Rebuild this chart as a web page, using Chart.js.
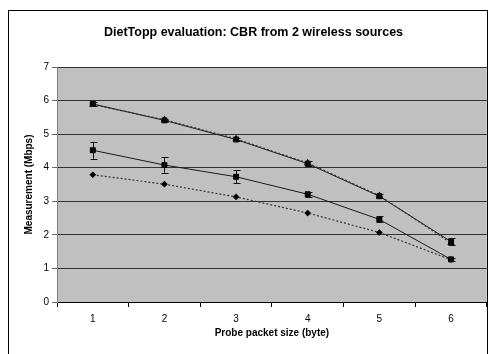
<!DOCTYPE html>
<html>
<head>
<meta charset="utf-8">
<script src="https://cdn.jsdelivr.net/npm/chart.js@4"></script>
<style>
  html, body { margin: 0; padding: 0; background: #fff; }
  #wrap { width: 492px; height: 354px; }
</style>
</head>
<body>
<div id="wrap"><canvas id="chart" width="492" height="354"></canvas></div>
<script>
const packetSizes = ['1', '2', '3', '4', '5', '6'];
const yTicks = [0, 7];

// solid series with error bars
const solidTop = [5.90, 5.41, 4.84, 4.12, 3.15, 1.80];
const solidTopErr = [0.07, 0.05, 0.05, 0.07, 0.06, 0.10];
const solidLow = [4.52, 4.08, 3.73, 3.21, 2.46, 1.27];
const solidLowErr = [0.25, 0.23, 0.20, 0.07, 0.09, 0.04];

// dotted series
const dottedTop = [5.88, 5.43, 4.86, 4.14, 3.17, 1.76];
const dottedLow = [3.79, 3.51, 3.13, 2.65, 2.07, 1.26];

const FONT = "'Liberation Sans', Arial, sans-serif";

const frameAndBack = {
  id: 'frameAndBack',
  beforeDraw(chart) {
    const ctx = chart.ctx;
    const a = chart.chartArea;
    ctx.save();
    ctx.fillStyle = '#fff';
    ctx.fillRect(0, 0, chart.width, chart.height);
    ctx.strokeStyle = '#000';
    ctx.lineWidth = 1;
    ctx.strokeRect(8.5, 10.5, 479, 400);
    ctx.fillStyle = '#c0c0c0';
    ctx.fillRect(a.left, a.top, a.right - a.left, a.bottom - a.top);
    ctx.restore();
  }
};

const errorBars = {
  id: 'errorBars',
  afterDatasetsDraw(chart) {
    const ctx = chart.ctx;
    const y = chart.scales.y;
    ctx.save();
    ctx.strokeStyle = '#111';
    ctx.lineWidth = 1;
    chart.data.datasets.forEach((ds, i) => {
      if (!ds.errors) return;
      const meta = chart.getDatasetMeta(i);
      meta.data.forEach((pt, j) => {
        const e = ds.errors[j];
        const x = Math.round(pt.x) + 0.5;
        const y1 = y.getPixelForValue(ds.data[j] + e);
        const y2 = y.getPixelForValue(ds.data[j] - e);
        ctx.beginPath();
        ctx.moveTo(x, y1); ctx.lineTo(x, y2);
        ctx.moveTo(x - 3, Math.round(y1) + 0.5); ctx.lineTo(x + 4, Math.round(y1) + 0.5);
        ctx.moveTo(x - 3, Math.round(y2) + 0.5); ctx.lineTo(x + 4, Math.round(y2) + 0.5);
        ctx.stroke();
      });
    });
    ctx.restore();
  }
};

new Chart(document.getElementById('chart'), {
  type: 'line',
  data: {
    labels: packetSizes,
    datasets: [
      {
        data: dottedTop,
        borderColor: '#333',
        borderWidth: 1.2,
        borderDash: [2, 2],
        pointStyle: 'triangle',
        pointRadius: 3,
        pointBackgroundColor: '#000',
        pointBorderColor: '#000',
        order: 0
      },
      {
        data: dottedLow,
        borderColor: '#333',
        borderWidth: 1.2,
        borderDash: [2, 2],
        pointStyle: 'rectRot',
        pointRadius: 2.5,
        pointBackgroundColor: '#000',
        pointBorderColor: '#000',
        order: 0
      },
      {
        data: solidTop,
        errors: solidTopErr,
        borderColor: '#1a1a1a',
        borderWidth: 1,
        pointStyle: 'rect',
        pointRadius: 3.5,
        pointBackgroundColor: '#000',
        pointBorderColor: '#000',
        order: 1
      },
      {
        data: solidLow,
        errors: solidLowErr,
        borderColor: '#1a1a1a',
        borderWidth: 1,
        pointStyle: 'rect',
        pointRadius: 3.5,
        pointBackgroundColor: '#000',
        pointBorderColor: '#000',
        order: 1
      }
    ]
  },
  options: {
    responsive: false,
    animation: false,
    layout: { padding: { left: 20, right: 5, top: 0, bottom: 0 } },
    plugins: {
      legend: { display: false },
      tooltip: { enabled: false },
      title: {
        display: true,
        text: 'DietTopp evaluation: CBR from 2 wireless sources',
        color: '#000',
        font: { family: FONT, size: 12.5, weight: 'bold' },
        padding: { top: 25.5, bottom: 26.5 }
      }
    },
    scales: {
      x: {
        offset: true,
        grid: {
          offset: true,
          drawOnChartArea: false,
          tickLength: 5,
          tickColor: '#000'
        },
        border: { color: '#000' },
        ticks: {
          color: '#000',
          padding: 6,
          font: { family: FONT, size: 10 }
        },
        title: {
          display: true,
          text: 'Probe packet size (byte)',
          color: '#000',
          font: { family: FONT, size: 10, weight: 'bold' },
          padding: { top: 0, bottom: 15 }
        },
        afterFit(scale) { scale.height = 52; }
      },
      y: {
        min: yTicks[0],
        max: yTicks[1],
        ticks: {
          stepSize: 1,
          color: '#000',
          padding: 3,
          font: { family: FONT, size: 10 }
        },
        grid: {
          color: '#333',
          lineWidth: 1,
          tickLength: 5,
          tickColor: '#666'
        },
        border: { color: '#808080' },
        title: {
          display: true,
          text: 'Measurement (Mbps)',
          color: '#000',
          font: { family: FONT, size: 10, weight: 'bold' },
          padding: { top: 3, bottom: 0 }
        },
        afterFit(scale) { scale.width = 37; }
      }
    }
  },
  plugins: [frameAndBack, errorBars]
});
</script>
</body>
</html>
